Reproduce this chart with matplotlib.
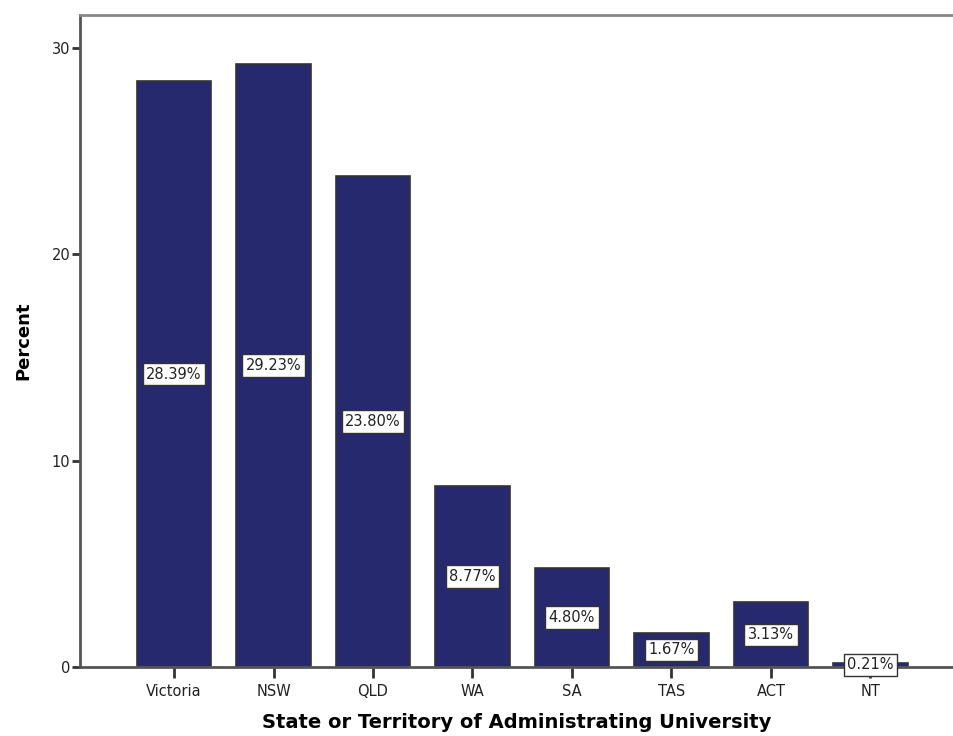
import numpy as np
import matplotlib.pyplot as plt

# Values
states = ["Victoria", "NSW", "QLD", "WA", "SA", "TAS", "ACT", "NT"]
percent = [28.39, 29.23, 23.80, 8.77, 4.80, 1.67, 3.13, 0.21]

fig = plt.figure(figsize=(9.54, 7.36), dpi=100)
ax = fig.add_axes([80 / 954, 69 / 736, 1 - 80 / 954, (667 - 15) / 736])

x = np.arange(len(states))
ax.bar(x, percent, width=0.75, color="#27296f", edgecolor="#333333", linewidth=1.2)

# value labels in white boxes at the middle of each bar
for xi, v in zip(x, percent):
    ax.text(xi, v / 2, f"{v:.2f}%", ha="center", va="center", fontsize=10.5,
            color="#222222",
            bbox=dict(boxstyle="square,pad=0.25", facecolor="white",
                      edgecolor="#333333", linewidth=1))

ax.set_xlim(-0.945, 7.84)
ax.set_ylim(0, 31.6)
ax.set_xticks(x)
ax.set_xticklabels(states, fontsize=10.5, color="#222222")
ax.set_yticks([0, 10, 20, 30])
ax.tick_params(axis="y", labelsize=10.5, length=6, width=2, color="#333333",
               labelcolor="#222222", pad=1)
ax.tick_params(axis="x", length=8, width=2, color="#333333", pad=4)

ax.spines["right"].set_visible(False)
ax.spines["left"].set_color("#555555")
ax.spines["left"].set_linewidth(2)
ax.spines["bottom"].set_color("#555555")
ax.spines["bottom"].set_linewidth(2)
ax.spines["top"].set_color("#888888")
ax.spines["top"].set_linewidth(2)

ax.set_ylabel("Percent", fontsize=13, fontweight="bold", labelpad=14)
ax.set_xlabel("State or Territory of Administrating University", fontsize=14,
              fontweight="bold", labelpad=10)

fig.savefig("out.png", dpi=100)
